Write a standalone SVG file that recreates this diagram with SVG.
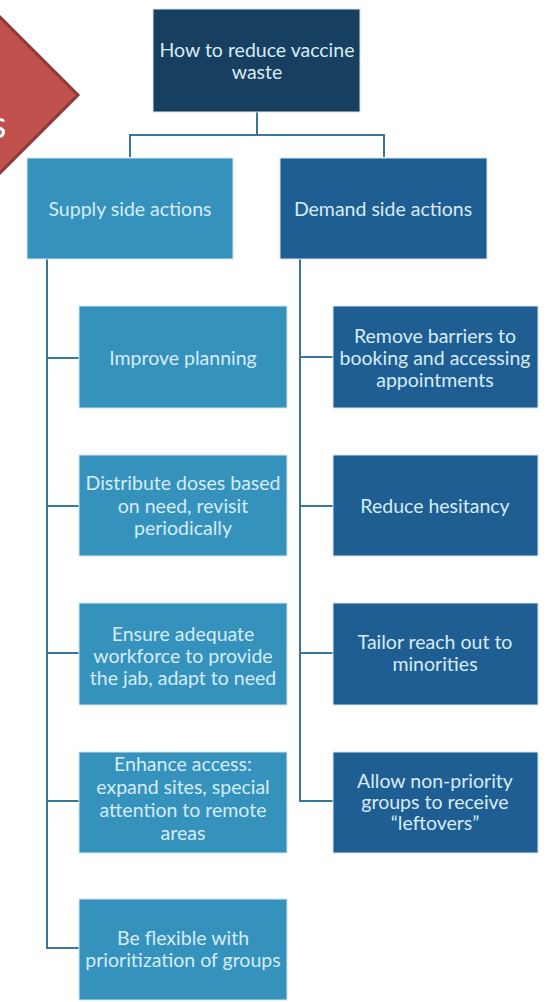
<svg xmlns="http://www.w3.org/2000/svg" width="552" height="1002" viewBox="0 0 552 1002">
<style>
.box{stroke:#d5e6ef;stroke-width:1}
.top{fill:#173f5f}
.sup{fill:#3592bd}
.dem{fill:#1f5e93}
.t{font-family:Lato,"Open Sans","Liberation Sans",sans-serif;font-size:19.5px;fill:#d6ecf6;text-anchor:middle}
.c{fill:none;stroke:#3b7597;stroke-width:2}
</style>
<rect width="552" height="1002" fill="#ffffff"/>
<g id="red-shape">
<polygon points="78,95 -2,15 -82,95 -2,175" fill="#c0504d" stroke="#8c3836" stroke-width="3"/>
<text x="-10" y="138" font-family="Lato,'Liberation Sans',sans-serif" font-size="38" fill="#ffffff">s</text>
</g>
<g id="connectors">
<path class="c" d="M257,112 V135 M130,157 V135 H384 V157"/>
<path class="c" d="M47,259 V948 H79 M47,358 H79 M47,506 H79 M47,653 H79 M47,801 H79"/>
<path class="c" d="M300,259 V801 H333 M300,357 H333 M300,506 H333 M300,653 H333"/>
</g>
<g id="root"><rect class="box top" x="153" y="9" width="207" height="103"/>
<text class="t" x="257" y="57">How to reduce vaccine</text><text class="t" x="257" y="79">waste</text></g>
<g id="supply"><rect class="box sup" x="27" y="158" width="206" height="101"/>
<text class="t" x="130" y="216">Supply side actions</text></g>
<g id="demand"><rect class="box dem" x="280" y="158" width="207" height="101"/>
<text class="t" x="383" y="216">Demand side actions</text></g>
<g id="s1"><rect class="box sup" x="79" y="306" width="208" height="102"/>
<text class="t" x="183" y="365">Improve planning</text></g>
<g id="s2"><rect class="box sup" x="79" y="455" width="208" height="101"/>
<text class="t" x="183" y="490">Distribute doses based</text><text class="t" x="183" y="513">on need, revisit</text><text class="t" x="183" y="535">periodically</text></g>
<g id="s3"><rect class="box sup" x="79" y="603" width="208" height="102"/>
<text class="t" x="183" y="641">Ensure adequate</text><text class="t" x="183" y="663">workforce to provide</text><text class="t" x="183" y="685">the jab, adapt to need</text></g>
<g id="s4"><rect class="box sup" x="79" y="752" width="208" height="101"/>
<text class="t" x="183" y="771">Enhance access:</text><text class="t" x="183" y="794">expand sites, special</text><text class="t" x="183" y="817">attention to remote</text><text class="t" x="183" y="840">areas</text></g>
<g id="s5"><rect class="box sup" x="79" y="899" width="208" height="101"/>
<text class="t" x="183" y="945">Be flexible with</text><text class="t" x="183" y="967">prioritization of groups</text></g>
<g id="d1"><rect class="box dem" x="333" y="306" width="205" height="102"/>
<text class="t" x="435" y="343">Remove barriers to</text><text class="t" x="435" y="365">booking and accessing</text><text class="t" x="435" y="387">appointments</text></g>
<g id="d2"><rect class="box dem" x="333" y="455" width="205" height="101"/>
<text class="t" x="435" y="513">Reduce hesitancy</text></g>
<g id="d3"><rect class="box dem" x="333" y="603" width="205" height="102"/>
<text class="t" x="435" y="649">Tailor reach out to</text><text class="t" x="435" y="671">minorities</text></g>
<g id="d4"><rect class="box dem" x="333" y="752" width="205" height="101"/>
<text class="t" x="435" y="788">Allow non-priority</text><text class="t" x="435" y="809">groups to receive</text><text class="t" x="435" y="830">“leftovers”</text></g>
</svg>
